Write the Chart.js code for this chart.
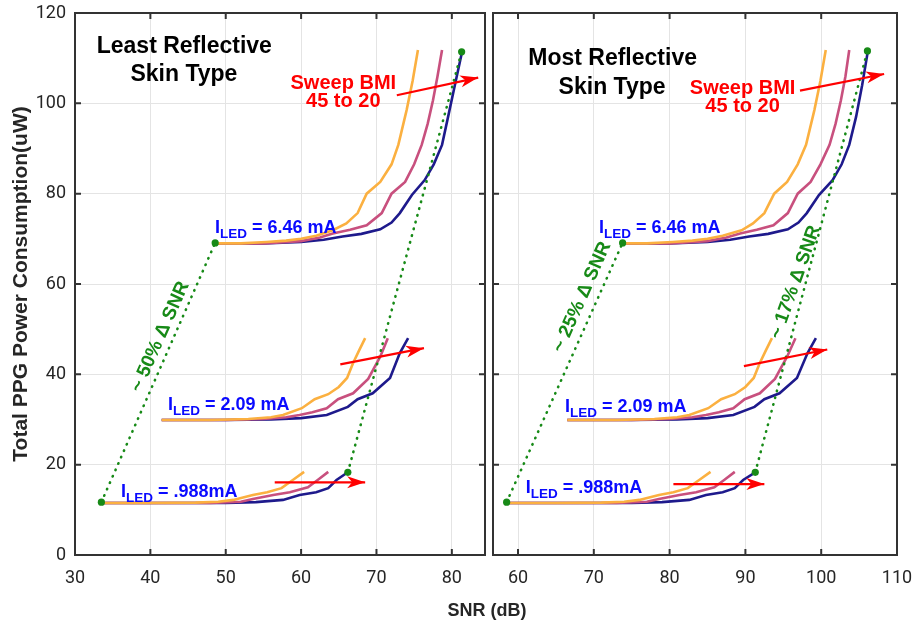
<!DOCTYPE html>
<html>
<head>
<meta charset="utf-8">
<script src="https://cdn.jsdelivr.net/npm/chart.js@4.4.1/dist/chart.umd.min.js"></script>
<style>
  body { margin: 0; background: #fff; }
  #wrap { position: relative; width: 912px; height: 624px; overflow: hidden; }
  canvas { position: absolute; top: 0; }
  #left { left: 0; }
  #right { left: 488px; }
  #xtitle {
    position: absolute; left: 387px; width: 200px; top: 600px; line-height: 20px;
    text-align: center; font: bold 18px 'Liberation Sans', Arial, sans-serif; color: #262626;
  }
</style>
</head>
<body>
<div id="wrap">
  <canvas id="left" width="490" height="624"></canvas>
  <canvas id="right" width="424" height="624"></canvas>
  <div id="xtitle">SNR (dB)</div>
</div>
<script>
// Tick labels
const yTicks = [0, 20, 40, 60, 80, 100, 120];
const xTicksL = [30, 40, 50, 60, 70, 80];
const xTicksR = [60, 70, 80, 90, 100, 110];

// Power (uW) per LED current / BMI, same in both panels
const pwr646_bmi45 = [69.0, 69.0, 69.3, 69.6, 70.0, 70.7, 71.9, 73.4, 75.7, 80.0, 82.6, 86.5, 90.8, 98.5, 105.0, 111.8];
const pwr646_bmiMid = [69.0, 69.0, 69.5, 70.3, 71.2, 72.0, 73.0, 75.7, 80.0, 82.6, 86.5, 90.8, 95.5, 100.7, 106.0, 111.8];
const pwr646_bmi20 = [69.0, 69.0, 69.3, 69.8, 70.5, 71.1, 72.1, 73.6, 75.7, 79.7, 83.0, 86.5, 90.8, 97.0, 104.0, 111.0];
const pwr209_bmi45 = [29.9, 29.9, 30.1, 30.5, 31.0, 32.5, 34.5, 35.6, 37.2, 39.2, 42.5, 45.3, 48.0];
const pwr209_bmiMid = [29.9, 29.9, 30.1, 30.5, 31.0, 31.6, 32.5, 34.5, 35.8, 39.0, 43.9, 48.0];
const pwr209_bmi20 = [29.9, 29.9, 30.0, 30.3, 31.0, 32.8, 34.5, 35.8, 39.2, 44.7, 48.0];
const pwr988_bmi45 = [11.5, 11.5, 11.6, 11.8, 12.2, 13.3, 13.9, 14.8, 16.6, 18.4];
const pwr988_bmiMid = [11.5, 11.5, 11.5, 11.8, 12.4, 13.3, 13.9, 15.0, 16.6, 18.4];
const pwr988_bmi20 = [11.5, 11.5, 11.5, 11.7, 12.2, 13.3, 13.9, 14.8, 16.6, 18.2];

// SNR (dB), least reflective skin
const snrL646_bmi45 = [48.6, 52, 55.4, 58, 60, 62, 64.2, 66, 67.5, 68.7, 70.5, 72.0, 72.9, 74.0, 74.8, 75.5];
const snrL646_bmiMid = [48.6, 55, 60, 62.5, 64.2, 66.5, 68.7, 70.7, 72.0, 73.8, 75.0, 76.0, 76.8, 77.5, 78.1, 78.7];
const snrL646_bmi20 = [48.6, 55, 60, 63, 65.5, 68, 70.5, 72, 73.1, 74.7, 76.4, 77.6, 78.7, 79.5, 80.4, 81.3];
const snrL209_bmi45 = [41.5, 48, 53, 56, 57.6, 60.1, 61.8, 63.6, 65, 66.1, 66.9, 67.7, 68.5];
const snrL209_bmiMid = [41.5, 50, 55, 58, 59.8, 61.5, 63.4, 64.9, 66.9, 68.9, 70.5, 71.5];
const snrL209_bmi20 = [41.5, 50, 56, 60, 63.4, 66.2, 67.5, 69.5, 71.8, 73.1, 74.2];
const snrL988_bmi45 = [33.5, 40, 46, 49, 51, 53.6, 55.5, 57.4, 58.9, 60.4];
const snrL988_bmiMid = [33.5, 42, 48, 52, 53.6, 56.3, 58.5, 60.9, 62.2, 63.6];
const snrL988_bmi20 = [33.5, 44, 50, 54, 57.6, 59.8, 62.0, 63.6, 64.7, 66.1];

// SNR (dB), most reflective skin
const snrR646_bmi45 = [73.8, 77, 80.4, 83, 85, 87, 89.5, 91, 92.5, 93.8, 95.5, 96.9, 98.0, 99.1, 99.9, 100.6];
const snrR646_bmiMid = [73.8, 80, 85, 87.5, 89.3, 91.5, 93.7, 95.6, 96.9, 98.6, 99.9, 101.1, 101.9, 102.6, 103.2, 103.7];
const snrR646_bmi20 = [73.8, 80, 85, 88, 90.5, 93, 95.6, 97, 98.1, 99.7, 101.5, 102.7, 103.7, 104.6, 105.4, 106.1];
const snrR209_bmi45 = [66.5, 73, 78, 81, 82.6, 85.1, 86.8, 88.6, 90, 91.1, 91.9, 92.7, 93.5];
const snrR209_bmiMid = [66.5, 75, 80, 83, 84.8, 86.5, 88.4, 89.9, 91.9, 93.9, 95.5, 96.6];
const snrR209_bmi20 = [66.5, 75, 81, 85, 88.4, 91.2, 92.5, 94.5, 96.8, 98.2, 99.3];
const snrR988_bmi45 = [58.5, 65, 71, 74, 76, 78.6, 80.5, 82.4, 83.9, 85.4];
const snrR988_bmiMid = [58.5, 67, 73, 77, 78.6, 81.3, 83.5, 85.9, 87.2, 88.6];
const snrR988_bmi20 = [58.5, 69, 75, 79, 82.6, 84.8, 87.0, 88.6, 89.7, 91.2];

// Delta-SNR guide lines [[snr, pwr], [snr, pwr]]
const deltaL = [[[33.5, 11.7], [48.6, 69.1]], [[66.2, 18.3], [81.3, 111.4]]];
const deltaR = [[[58.5, 11.7], [73.8, 69.1]], [[91.3, 18.3], [106.1, 111.6]]];

// "Sweep BMI" arrows [[start], [tip]]
const arrowsL = [[[72.7, 101.8], [83.5, 105.7]], [[65.2, 42.2], [76.3, 45.8]], [[56.5, 16.1], [68.5, 16.1]]];
const arrowsR = [[[97.2, 102.8], [108.3, 106.5]], [[89.8, 41.8], [100.8, 45.5]], [[80.5, 15.7], [92.5, 15.7]]];

const COLORS = { bmi45: '#fbb040', bmiMid: '#c8507e', bmi20: '#1e1a8c' };
const FONT = "'Liberation Sans', Arial, sans-serif";
const BLUE = '#0a0aff', RED = '#ff0000', GREEN = '#178a17';

function pts(xs, ys) {
    return xs.map((x, i) => ({ x: x, y: ys[i] }));
}

function curve(xs, ys, color, order) {
    return { data: pts(xs, ys), borderColor: color, borderWidth: 2.6, pointRadius: 0, order: order, tension: 0 };
}

function buildDatasets(s646, s209, s988, delta, arrows) {
    const sets = [];
    arrows.forEach(a => sets.push({
        data: a.map(p => ({ x: p[0], y: p[1] })), borderColor: RED, borderWidth: 2.2, pointRadius: 0, order: 0
    }));
    delta.forEach(d => sets.push({
        data: d.map(p => ({ x: p[0], y: p[1] })), borderColor: GREEN, borderWidth: 2.6,
        borderDash: [0.5, 6.5], borderCapStyle: 'round', pointRadius: 3.6,
        pointBackgroundColor: GREEN, pointBorderWidth: 0, order: 1
    }));
    [[s646, pwr646_bmi45, pwr646_bmiMid, pwr646_bmi20],
     [s209, pwr209_bmi45, pwr209_bmiMid, pwr209_bmi20],
     [s988, pwr988_bmi45, pwr988_bmiMid, pwr988_bmi20]].forEach(g => {
        sets.push(curve(g[0][0], g[1], COLORS.bmi45, 2));
        sets.push(curve(g[0][1], g[2], COLORS.bmiMid, 3));
        sets.push(curve(g[0][2], g[3], COLORS.bmi20, 4));
    });
    return sets;
}

// Frame, inner ticks, arrow heads and annotation texts
const decorPlugin = {
    id: 'decor',
    afterDatasetsDraw(chart, args, opts) {
        const { ctx, chartArea: a } = chart;
        const xs = chart.scales.x, ys = chart.scales.y;
        ctx.save();

        (opts.arrows || []).forEach(ar => {
            const x0 = xs.getPixelForValue(ar[0][0]), y0 = ys.getPixelForValue(ar[0][1]);
            const x1 = xs.getPixelForValue(ar[1][0]), y1 = ys.getPixelForValue(ar[1][1]);
            const len = Math.hypot(x1 - x0, y1 - y0);
            const ux = (x1 - x0) / len, uy = (y1 - y0) / len;
            const L = 18, W = 6, N = 5;
            ctx.beginPath();
            ctx.moveTo(x1, y1);
            ctx.lineTo(x1 - L * ux - W * uy, y1 - L * uy + W * ux);
            ctx.lineTo(x1 - (L - N) * ux, y1 - (L - N) * uy);
            ctx.lineTo(x1 - L * ux + W * uy, y1 - L * uy - W * ux);
            ctx.closePath();
            ctx.fillStyle = RED;
            ctx.fill();
        });

        ctx.strokeStyle = '#333';
        ctx.lineWidth = 2;
        ctx.strokeRect(a.left, a.top, a.right - a.left, a.bottom - a.top);
        ctx.beginPath();
        xs.ticks.forEach(t => {
            const px = xs.getPixelForValue(t.value);
            ctx.moveTo(px, a.bottom); ctx.lineTo(px, a.bottom - 6);
            ctx.moveTo(px, a.top); ctx.lineTo(px, a.top + 6);
        });
        ys.ticks.forEach(t => {
            const py = ys.getPixelForValue(t.value);
            ctx.moveTo(a.left, py); ctx.lineTo(a.left + 6, py);
            ctx.moveTo(a.right, py); ctx.lineTo(a.right - 6, py);
        });
        ctx.stroke();

        ctx.textBaseline = 'alphabetic';
        (opts.texts || []).forEach(t => {
            const px = xs.getPixelForValue(t.x), py = ys.getPixelForValue(t.y);
            ctx.fillStyle = t.color;
            ctx.font = 'bold ' + t.size + 'px ' + FONT;
            if (t.rot) {
                ctx.save();
                ctx.translate(px, py);
                ctx.rotate(t.rot * Math.PI / 180);
                ctx.textAlign = 'center';
                ctx.textBaseline = 'middle';
                ctx.fillText(t.text, 0, 0);
                ctx.restore();
            } else {
                ctx.textAlign = t.align || 'center';
                ctx.fillText(t.text, px, py);
            }
        });

        (opts.iled || []).forEach(t => {
            let px = xs.getPixelForValue(t.x);
            const py = ys.getPixelForValue(t.y);
            ctx.fillStyle = BLUE;
            ctx.textAlign = 'left';
            ctx.font = 'bold 18px ' + FONT;
            ctx.fillText('I', px, py);
            px += ctx.measureText('I').width;
            ctx.font = 'bold 13.5px ' + FONT;
            ctx.fillText('LED', px, py + 5);
            px += ctx.measureText('LED').width;
            ctx.font = 'bold 18px ' + FONT;
            ctx.fillText(t.text, px, py);
        });
        ctx.restore();
    }
};

const tickFont = { family: 'Roboto', size: 18 };
const gridStyle = { color: '#e4e4e4', lineWidth: 1, drawTicks: false };

function makeChart(id, opt) {
    return new Chart(document.getElementById(id), {
        type: 'line',
        data: { datasets: opt.datasets },
        plugins: [decorPlugin],
        options: {
            responsive: false,
            animation: false,
            layout: { padding: opt.padding },
            plugins: {
                legend: { display: false },
                tooltip: { enabled: false },
                decor: { arrows: opt.arrows, texts: opt.texts, iled: opt.iled }
            },
            scales: {
                x: {
                    type: 'linear', min: opt.xMin, max: opt.xMax,
                    afterBuildTicks: s => { s.ticks = opt.xTicks.map(v => ({ value: v })); },
                    afterFit: s => { s.height = 69; s.paddingLeft = 0; s.paddingRight = 0; },
                    grid: gridStyle,
                    border: { display: false },
                    ticks: { font: tickFont, color: '#262626', padding: 13, maxRotation: 0 }
                },
                y: {
                    type: 'linear', min: 0, max: 120,
                    afterBuildTicks: s => { s.ticks = yTicks.map(v => ({ value: v })); },
                    afterFit: s => { s.width = opt.yWidth; s.paddingTop = 0; s.paddingBottom = 0; },
                    grid: gridStyle,
                    border: { display: false },
                    ticks: { display: opt.yLabels, font: tickFont, color: '#262626', padding: 9 },
                    title: {
                        display: opt.yLabels, text: 'Total PPG Power Consumption(uW)',
                        font: { family: FONT, size: 21, weight: 'bold' }, color: '#262626',
                        padding: { top: 9, bottom: 0 }
                    }
                }
            }
        }
    });
}

makeChart('left', {
    datasets: buildDatasets(
        [snrL646_bmi45, snrL646_bmiMid, snrL646_bmi20],
        [snrL209_bmi45, snrL209_bmiMid, snrL209_bmi20],
        [snrL988_bmi45, snrL988_bmiMid, snrL988_bmi20], deltaL, arrowsL),
    padding: { top: 13, right: 5, left: 0, bottom: 0 },
    xMin: 30, xMax: 84.4, xTicks: xTicksL, yWidth: 75, yLabels: true,
    arrows: arrowsL,
    texts: [
        { text: 'Least Reflective', x: 44.5, y: 111.1, size: 23, color: '#000' },
        { text: 'Skin Type', x: 44.45, y: 104.9, size: 23, color: '#000' },
        { text: 'Sweep BMI', x: 65.6, y: 103.2, size: 20, color: RED },
        { text: '45 to 20', x: 65.6, y: 99.2, size: 20, color: RED },
        { text: '~ 50% \u0394 SNR', x: 41.3, y: 48.3, size: 19, color: GREEN, rot: -66 }
    ],
    iled: [
        { text: ' = 6.46 mA', x: 48.57, y: 71.3 },
        { text: ' = 2.09 mA', x: 42.33, y: 32.1 },
        { text: ' = .988mA', x: 36.1, y: 12.84 }
    ]
});

makeChart('right', {
    datasets: buildDatasets(
        [snrR646_bmi45, snrR646_bmiMid, snrR646_bmi20],
        [snrR209_bmi45, snrR209_bmiMid, snrR209_bmi20],
        [snrR988_bmi45, snrR988_bmiMid, snrR988_bmi20], deltaR, arrowsR),
    padding: { top: 13, right: 15, left: 0, bottom: 0 },
    xMin: 56.7, xMax: 110, xTicks: xTicksR, yWidth: 5, yLabels: false,
    arrows: arrowsR,
    texts: [
        { text: 'Most Reflective', x: 72.48, y: 108.5, size: 23, color: '#000' },
        { text: 'Skin Type', x: 72.41, y: 102.1, size: 23, color: '#000' },
        { text: 'Sweep BMI', x: 89.63, y: 102.1, size: 20, color: RED },
        { text: '45 to 20', x: 89.63, y: 98.1, size: 20, color: RED },
        { text: '~ 25% \u0394 SNR', x: 68.44, y: 57.1, size: 19, color: GREEN, rot: -66 },
        { text: '~ 17% \u0394 SNR', x: 96.6, y: 60.4, size: 19, color: GREEN, rot: -70.5 }
    ],
    iled: [
        { text: ' = 6.46 mA', x: 70.69, y: 71.3 },
        { text: ' = 2.09 mA', x: 66.19, y: 31.7 },
        { text: ' = .988mA', x: 61.02, y: 13.7 }
    ]
});
</script>
</body>
</html>
